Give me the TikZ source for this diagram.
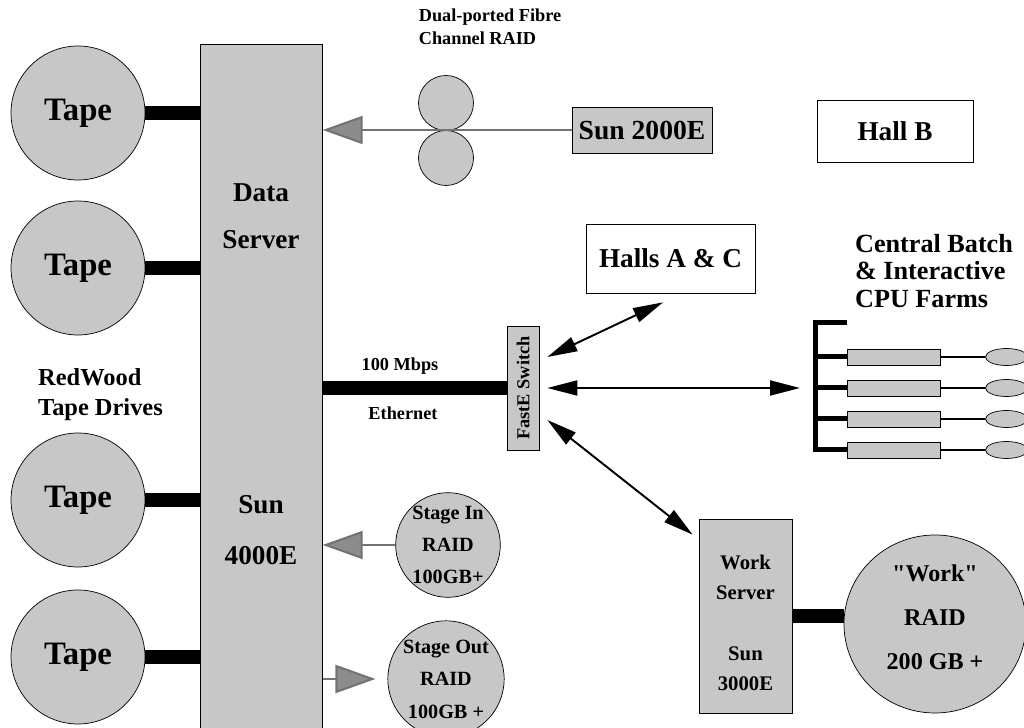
\documentclass[tikz,border=0pt]{standalone}
\usepackage{fontspec}
\setmainfont[Ligatures=TeXOff]{Liberation Serif}
\usetikzlibrary{positioning,arrows.meta,shapes.geometric}

\begin{document}
\begin{tikzpicture}[node distance=1.5cm, auto]
    % Styles
    \tikzstyle{tape} = [circle, draw, fill=black!22, minimum size=2.68cm, inner sep=0pt, font=\fontsize{18.6}{22}\selectfont\bfseries]
    \tikzstyle{server} = [rectangle, draw, fill=black!22, inner sep=0pt]
    \tikzstyle{hall} = [rectangle, draw, inner sep=0pt, font=\fontsize{15.5}{18}\selectfont\bfseries]
    \tikzstyle{disk} = [circle, draw, fill=black!22, inner sep=0pt]
    \tikzstyle{cpu} = [rectangle, draw, fill=black!22, minimum width=1.86cm, minimum height=0.32cm, inner sep=0pt]
    \tikzstyle{cpudisk} = [ellipse, draw, fill=black!22, minimum width=0.84cm, minimum height=0.34cm, inner sep=0pt]
    \tikzstyle{txt} = [font=\fontsize{15.5}{26.6}\selectfont\bfseries, align=center]
    \tikzstyle{small} = [font=\fontsize{10.4}{13}\selectfont\bfseries]
    \tikzstyle{bar} = [line width=0.28cm]
    \tikzstyle{bus} = [line width=0.1cm]
    \tikzstyle{arrow} = [line width=1.1pt, {Triangle[length=0.6cm,width=0.3cm]}-{Triangle[length=0.6cm,width=0.3cm]}]
    \tikzstyle{feed} = [black!55, line width=1.2pt, -{Triangle[length=0.8cm,width=0.56cm,fill=black!45]}]

    \useasboundingbox (0,0) rectangle (20.48,-14.56);

    % Nodes
    \node [tape] (tape1) at (1.56,-2.26) {Tape};
    \node [tape, below of=tape1, node distance=3.1cm] (tape2) {Tape};
    \node [tape, below of=tape2, node distance=4.64cm] (tape3) {Tape};
    \node [tape, below of=tape3, node distance=3.14cm] (tape4) {Tape};
    \node [txt, align=left, font=\fontsize{13.9}{17}\selectfont\bfseries] (redwood) at (2.01,-7.9) {RedWood\\Tape Drives};

    \node [server, anchor=north west, minimum width=2.44cm, minimum height=13.8cm] (data) at (4.0,-0.88) {};
    \node [txt] (dataname) at (5.22,-4.33) {Data\\Server};
    \node [txt] (datasun) at (5.22,-10.6) {Sun\\[2.4pt]4000E};

    \node [disk, minimum size=1.1cm] (fc1) at (8.92,-2.06) {};
    \node [disk, minimum size=1.1cm, below of=fc1, node distance=1.1cm] (fc2) {};
    \node [small, align=left] (fclbl) at (9.8,-0.53) {Dual-ported Fibre\\Channel RAID};
    \node [server, minimum width=2.8cm, minimum height=0.92cm, font=\fontsize{15.7}{18}\selectfont\bfseries] (sun2000) at (12.84,-2.6) {Sun 2000E};
    \node [hall, minimum width=3.12cm, minimum height=1.24cm] (hallb) at (17.9,-2.62) {Hall B};
    \node [hall, minimum width=3.38cm, minimum height=1.38cm] (hallac) at (13.41,-5.17) {Halls A \& C};
    \node [txt, align=left, font=\fontsize{14.9}{15.6}\selectfont\bfseries] (farmlbl) at (18.68,-5.42) {Central Batch\\\& Interactive\\CPU Farms};

    \node [server, minimum width=0.64cm, minimum height=2.48cm] (switch) at (10.46,-7.76) {};
    \node [small, rotate=90] (switchlbl) at (switch) {FastE Switch};
    \node [small] (mbps) at (8.0,-7.32) {100 Mbps};
    \node [small] (ether) at (8.06,-8.26) {Ethernet};

    \node [cpu] (cpu1) at (17.87,-7.14) {};
    \node [cpu, below of=cpu1, node distance=0.62cm] (cpu2) {};
    \node [cpu, below of=cpu2, node distance=0.62cm] (cpu3) {};
    \node [cpu, below of=cpu3, node distance=0.62cm] (cpu4) {};
    \node [cpudisk, right of=cpu1, node distance=2.26cm] (cd1) {};
    \node [cpudisk, right of=cpu2, node distance=2.26cm] (cd2) {};
    \node [cpudisk, right of=cpu3, node distance=2.26cm] (cd3) {};
    \node [cpudisk, right of=cpu4, node distance=2.26cm] (cd4) {};
    \coordinate (bustop) at (16.3,-6.46);
    \coordinate (busend) at (16.94,-6.46);

    \node [disk, minimum size=1.92cm, font=\fontsize{11.5}{18}\selectfont\bfseries, align=center] (stagein) at (8.96,-10.9) {Stage In\\RAID\\100GB+};
    \node [disk, minimum size=2.02cm, font=\fontsize{11.5}{18.5}\selectfont\bfseries, align=center] (stageout) at (8.92,-13.58) {Stage Out\\RAID\\100GB +};

    \node [server, minimum width=1.86cm, minimum height=3.88cm] (work) at (14.91,-12.32) {};
    \node [txt, font=\fontsize{11.8}{17}\selectfont\bfseries, below of=work, node distance=0.14cm] (worklbl) {Work\\Server\\[0.62cm]Sun\\3000E};
    \node [ellipse, draw, fill=black!22, inner sep=0pt, minimum width=3.64cm, minimum height=3.56cm] (workraid) at (18.7,-12.48) {};
    \node [txt, font=\fontsize{13.7}{25}\selectfont\bfseries, above of=workraid, node distance=0.13cm] (raidlbl) {"Work"\\RAID\\200 GB +};

    % Links
    \draw [bar] (tape1.east) -- (tape1.east -| data.west);
    \draw [bar] (tape2.east) -- (tape2.east -| data.west);
    \draw [bar] (tape3.east) -- (tape3.east -| data.west);
    \draw [bar] (tape4.east) -- (tape4.east -| data.west);
    \draw [bar] (data.east |- switch.west) -- (switch.west);
    \draw [bar] (work.east) -- (work.east -| workraid.west);

    \draw [bus] (busend) -- (bustop) -- (bustop |- cpu4.west) -- (cpu4.west);
    \draw [bus] (bustop |- cpu1.west) -- (cpu1.west);
    \draw [bus] (bustop |- cpu2.west) -- (cpu2.west);
    \draw [bus] (bustop |- cpu3.west) -- (cpu3.west);
    \draw [thick] (cpu1.east) -- (cd1.west);
    \draw [thick] (cpu2.east) -- (cd2.west);
    \draw [thick] (cpu3.east) -- (cd3.west);
    \draw [thick] (cpu4.east) -- (cd4.west);

    % Arrows
    \draw [feed] (sun2000.west) -- (sun2000.west -| data.east);
    \draw [feed] (stagein.west) -- (stagein.west -| data.east);
    \draw [feed] (data.east |- stageout.west) -- ([xshift=-0.24cm]stageout.west);
    \draw [arrow] ([shift={(0.16,0.62)}]switch.east) -- ([shift={(-0.15,-0.18)}]hallac.south);
    \draw [arrow] ([xshift=0.16cm]switch.east) -- ([xshift=-0.3cm]bustop |- switch.east);
    \draw [arrow] ([shift={(0.16,-0.64)}]switch.east) -- ([shift={(-0.12,-0.32)}]work.north west);
\end{tikzpicture}
\end{document}
